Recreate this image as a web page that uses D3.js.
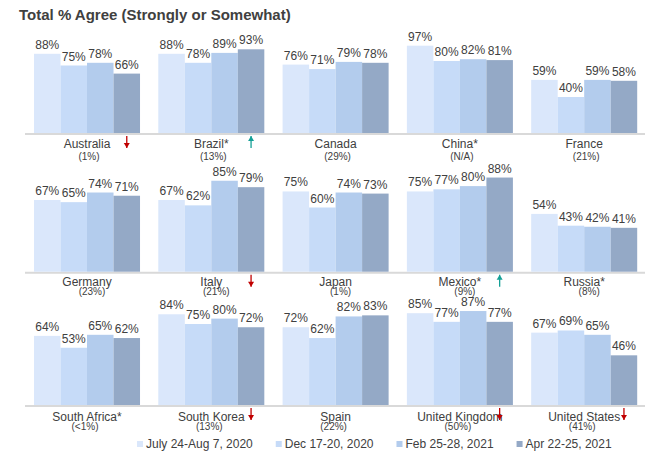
<!DOCTYPE html>
<html lang="en">
<head>
    <meta charset="UTF-8">
    <title>Total % Agree</title>
    <script src="https://d3js.org/d3.v7.min.js"></script>
    <style>
        body { margin: 0; background: #fff; }
        svg { display: block; font-family: "Liberation Sans", Arial, sans-serif; }
    </style>
</head>
<body>
    <svg id="chart" width="661" height="461"></svg>
    <script>
        // data
        const countries = ["Australia", "Brazil*", "Canada", "China*", "France",
            "Germany", "Italy", "Japan", "Mexico*", "Russia*",
            "South Africa*", "South Korea", "Spain", "United Kingdom", "United States"];
        const subLabels = ["(1%)", "(13%)", "(29%)", "(N/A)", "(21%)",
            "(23%)", "(21%)", "(1%)", "(9%)", "(8%)",
            "(<1%)", "(13%)", "(22%)", "(50%)", "(41%)"];
        const waves = ["July 24-Aug 7, 2020", "Dec 17-20, 2020", "Feb 25-28, 2021", "Apr 22-25, 2021"];
        const jul2020 = [88, 88, 76, 97, 59, 67, 67, 75, 75, 54, 64, 84, 72, 85, 67];
        const dec2020 = [75, 78, 71, 80, 40, 65, 62, 60, 77, 43, 53, 75, 62, 77, 69];
        const feb2021 = [78, 89, 79, 82, 59, 74, 85, 74, 80, 42, 65, 80, 82, 87, 65];
        const apr2021 = [66, 93, 78, 81, 58, 71, 79, 73, 88, 41, 62, 72, 83, 77, 46];
        const change = ["down", "up", null, null, null, null, "down", null, "up", null,
            null, "down", null, "down", "down"];

        const series = [jul2020, dec2020, feb2021, apr2021];
        const colors = ["#dae7fb", "#c6dbf8", "#b3cced", "#94a9c6"];
        const textColor = "#404040";

        // each row of the slide is its own little chart
        const rows = [
            { baseline: 133, full: 90, nameDy: 14.5, subDy: 27, subDx: 2 },
            { baseline: 271.7, full: 107, nameDy: 14.5, subDy: 23.5, subDx: 5 },
            { baseline: 405, full: 108, nameDy: 15.5, subDy: 24.5, subDx: -2 }
        ];

        const svg = d3.select("#chart");

        svg.append("text")
            .attr("x", 19).attr("y", 20)
            .attr("font-size", 15).attr("font-weight", "bold")
            .attr("fill", textColor)
            .text("Total % Agree (Strongly or Somewhat)");

        const x0 = d3.scaleBand().domain(d3.range(5)).range([34, 637.2]).paddingInner(0.147);
        const x1 = d3.scaleBand().domain(d3.range(4)).range([0, x0.bandwidth()]);

        rows.forEach((row, r) => {
            const y = d3.scaleLinear().domain([0, 100]).range([row.baseline, row.baseline - row.full]);
            const g = svg.append("g");

            g.append("line")
                .attr("x1", 25).attr("x2", 645)
                .attr("y1", row.baseline + 1).attr("y2", row.baseline + 1)
                .attr("stroke", "#d9d9d9").attr("stroke-width", 2);

            d3.range(5).forEach(c => {
                const idx = r * 5 + c;
                const gx = x0(c);
                const cg = g.append("g").attr("transform", `translate(${gx},0)`);

                cg.selectAll("rect")
                    .data(series.map((s, k) => ({ k: k, v: s[idx] })))
                    .enter().append("rect")
                    .attr("x", d => x1(d.k))
                    .attr("width", x1.bandwidth())
                    .attr("y", d => y(d.v))
                    .attr("height", d => y(0) - y(d.v))
                    .attr("fill", d => colors[d.k]);

                cg.selectAll("text.val")
                    .data(series.map((s, k) => ({ k: k, v: s[idx] })))
                    .enter().append("text")
                    .attr("class", "val")
                    .attr("x", d => x1(d.k) + x1.bandwidth() / 2)
                    .attr("y", d => y(d.v) - 5)
                    .attr("text-anchor", "middle")
                    .attr("font-size", 12)
                    .attr("fill", textColor)
                    .text(d => d.v + "%");

                const cx = x0.bandwidth() / 2;
                cg.append("text")
                    .attr("x", cx).attr("y", row.baseline + row.nameDy)
                    .attr("text-anchor", "middle")
                    .attr("font-size", 12)
                    .attr("fill", textColor)
                    .text(countries[idx]);
                cg.append("text")
                    .attr("x", cx + row.subDx).attr("y", row.baseline + row.subDy)
                    .attr("text-anchor", "middle")
                    .attr("font-size", 10)
                    .attr("fill", textColor)
                    .text(subLabels[idx]);

                // change arrow under the latest wave
                if (change[idx]) {
                    const ax = x1(3) + x1.bandwidth() / 2;
                    const top = row.baseline + 3, bot = row.baseline + 15;
                    const col = change[idx] === "up" ? "#14a096" : "#c00000";
                    cg.append("line")
                        .attr("x1", ax).attr("x2", ax)
                        .attr("y1", top).attr("y2", bot)
                        .attr("stroke", col).attr("stroke-width", 1.3);
                    const head = change[idx] === "up"
                        ? [[ax - 3, top + 5], [ax + 3, top + 5], [ax, top]]
                        : [[ax - 3, bot - 5], [ax + 3, bot - 5], [ax, bot]];
                    cg.append("path")
                        .attr("d", d3.line()(head) + "Z")
                        .attr("fill", col);
                }
            });
        });

        // legend
        const legend = svg.append("g");
        let lx = 137;
        waves.forEach((w, k) => {
            legend.append("rect")
                .attr("x", lx).attr("y", 441)
                .attr("width", 6).attr("height", 6)
                .attr("fill", colors[k]);
            const t = legend.append("text")
                .attr("x", lx + 9).attr("y", 448)
                .attr("font-size", 12)
                .attr("fill", textColor)
                .text(w);
            lx += 9 + t.node().getComputedTextLength() + 23;
        });
    </script>
</body>
</html>
